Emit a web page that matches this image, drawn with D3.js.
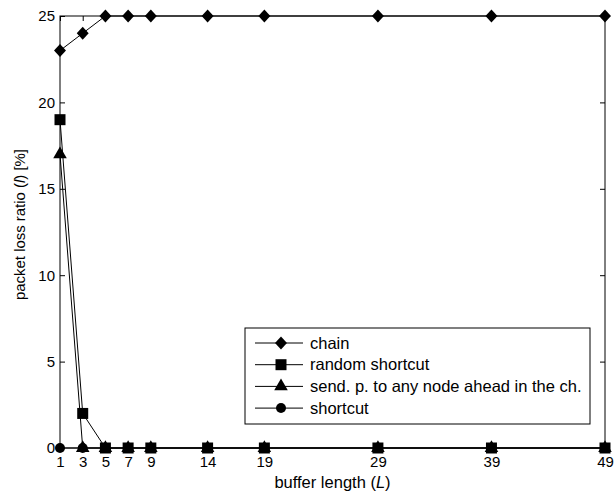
<!DOCTYPE html>
<html>
<head>
<meta charset="utf-8">
<script src="https://cdn.jsdelivr.net/npm/d3@7"></script>
<style>
  html, body { margin: 0; padding: 0; background: #fff; }
  svg { display: block; font-family: "Liberation Sans", Arial, sans-serif; }
</style>
</head>
<body>
<svg id="chart" width="615" height="495"></svg>
<script>
// Buffer lengths (x) and packet loss ratios in percent for each strategy
const bufferLengths = [1, 3, 5, 7, 9, 14, 19, 29, 39, 49];
const chainLoss          = [23, 24, 25, 25, 25, 25, 25, 25, 25, 25];
const randomShortcutLoss = [19, 2, 0, 0, 0, 0, 0, 0, 0, 0];
const sendAheadLoss      = [17, 0, 0, 0, 0, 0, 0, 0, 0, 0];
const shortcutLoss       = [0, 0, 0, 0, 0, 0, 0, 0, 0, 0];
const yTicks = [0, 5, 10, 15, 20, 25];

const seriesNames = ["chain", "random shortcut", "send. p. to any node ahead in the ch.", "shortcut"];
const seriesValues = [chainLoss, randomShortcutLoss, sendAheadLoss, shortcutLoss];

// A wide diamond (close to a rotated square, slightly taller than wide)
const wideDiamond = {
  draw(ctx, size) {
    const h = Math.sqrt(size) / 2;
    const w = h * 0.92;
    ctx.moveTo(0, -h);
    ctx.lineTo(w, 0);
    ctx.lineTo(0, h);
    ctx.lineTo(-w, 0);
    ctx.closePath();
  }
};
const seriesMarkers = [wideDiamond, d3.symbolSquare, d3.symbolTriangle, d3.symbolCircle];
const markerAreas = [169, 121, 80, 78];

const svg = d3.select("#chart");
const plotLeft = 60, plotRight = 605, plotTop = 16, plotBottom = 448;

const x = d3.scaleLinear().domain([1, 49]).range([plotLeft, plotRight]);
const y = d3.scaleLinear().domain([0, 25]).range([plotBottom, plotTop]);

const tickFont = 15;
const labelFont = 16.5;

// Frame (box around the plot area)
svg.append("rect")
  .attr("x", plotLeft).attr("y", plotTop)
  .attr("width", plotRight - plotLeft).attr("height", plotBottom - plotTop)
  .attr("fill", "none").attr("stroke", "#000").attr("stroke-width", 1);

// Axes with inward ticks on all four sides
const tickLen = 5;
const xAxisBottom = d3.axisBottom(x).tickValues(bufferLengths).tickSize(-tickLen).tickPadding(8);
const xAxisTop = d3.axisTop(x).tickValues(bufferLengths).tickSize(-tickLen).tickFormat("");
const yAxisLeft = d3.axisLeft(y).tickValues(yTicks).tickSize(-tickLen).tickPadding(5);
const yAxisRight = d3.axisRight(y).tickValues(yTicks).tickSize(-tickLen).tickFormat("");

function styleAxis(g) {
  g.select(".domain").remove();
  g.selectAll(".tick line").attr("stroke", "#000").attr("stroke-width", 1);
  g.selectAll(".tick text").attr("fill", "#000").style("font-size", tickFont + "px")
    .style("font-family", "'Liberation Sans', Arial, sans-serif");
}

svg.append("g").attr("transform", `translate(0,${plotBottom})`).call(xAxisBottom).call(styleAxis);
svg.append("g").attr("transform", `translate(0,${plotTop})`).call(xAxisTop).call(styleAxis);
svg.append("g").attr("transform", `translate(${plotLeft},0)`).call(yAxisLeft).call(styleAxis);
svg.append("g").attr("transform", `translate(${plotRight},0)`).call(yAxisRight).call(styleAxis);

// Axis titles
const xTitle = svg.append("text")
  .attr("x", (plotLeft + plotRight) / 2).attr("y", 488)
  .attr("text-anchor", "middle").style("font-size", labelFont + "px");
xTitle.append("tspan").text("buffer length (");
xTitle.append("tspan").attr("font-style", "italic").text("L");
xTitle.append("tspan").text(")");

// The vertical title is set in a condensed run
const yTitle = svg.append("text")
  .attr("transform", `translate(25,224.5) rotate(-90)`)
  .attr("text-anchor", "middle")
  .attr("textLength", 151)
  .attr("lengthAdjust", "spacingAndGlyphs")
  .style("font-size", "15px");
yTitle.append("tspan").text("packet loss ratio (");
yTitle.append("tspan").attr("font-style", "italic").text("l");
yTitle.append("tspan").text(") [%]");

// Series lines and markers, drawn so the chain series ends up on top
const line = d3.line().x((d, i) => x(bufferLengths[i])).y(d => y(d));
const order = [3, 2, 1, 0];
order.forEach(s => {
  const g = svg.append("g");
  g.append("path")
    .datum(seriesValues[s])
    .attr("d", line)
    .attr("fill", "none").attr("stroke", "#000").attr("stroke-width", 1);
  g.selectAll("path.marker")
    .data(seriesValues[s])
    .join("path")
    .attr("class", "marker")
    .attr("transform", (d, i) => `translate(${x(bufferLengths[i])},${y(d)})`)
    .attr("d", d3.symbol().type(seriesMarkers[s]).size(markerAreas[s]))
    .attr("fill", "#000");
});

// Legend
const legX = 245, legY = 328, legW = 345, legH = 96;
svg.append("rect")
  .attr("x", legX).attr("y", legY).attr("width", legW).attr("height", legH)
  .attr("fill", "#fff").attr("stroke", "#000").attr("stroke-width", 1);

seriesNames.forEach((name, i) => {
  const ry = legY + 15 + i * 21.7;
  svg.append("line")
    .attr("x1", legX + 10).attr("x2", legX + 58)
    .attr("y1", ry).attr("y2", ry)
    .attr("stroke", "#000").attr("stroke-width", 1);
  svg.append("path")
    .attr("transform", `translate(${legX + 36},${ry})`)
    .attr("d", d3.symbol().type(seriesMarkers[i]).size(markerAreas[i]))
    .attr("fill", "#000");
  svg.append("text")
    .attr("x", legX + 65).attr("y", ry)
    .attr("dy", "0.35em")
    .style("font-size", labelFont + "px")
    .text(name);
});
</script>
</body>
</html>
